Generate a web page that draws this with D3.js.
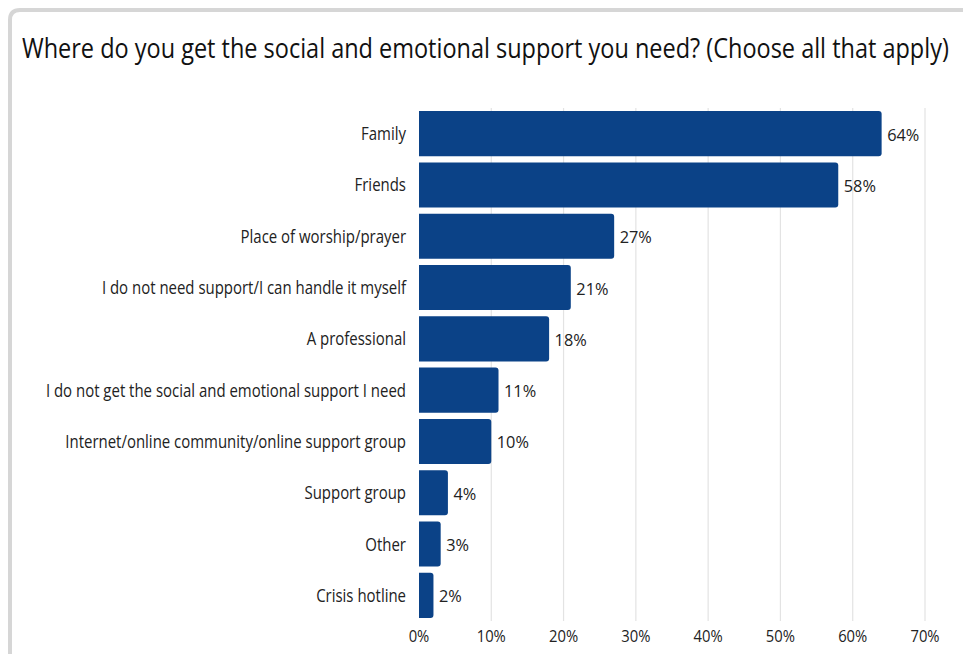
<!DOCTYPE html>
<html>
<head>
<meta charset="utf-8">
<script src="https://cdn.jsdelivr.net/npm/d3@7"></script>
<style>
  html, body { margin: 0; padding: 0; background: #fff; }
  svg { display: block; font-family: "Open Sans", sans-serif; }
</style>
</head>
<body>
<svg id="chart" width="963" height="654"></svg>
<script>
const title = "Where do you get the social and emotional support you need? (Choose all that apply)";
const categories = [
  "Family",
  "Friends",
  "Place of worship/prayer",
  "I do not need support/I can handle it myself",
  "A professional",
  "I do not get the social and emotional support I need",
  "Internet/online community/online support group",
  "Support group",
  "Other",
  "Crisis hotline"
];
const values = [64, 58, 27, 21, 18, 11, 10, 4, 3, 2];
const tickValues = [0, 10, 20, 30, 40, 50, 60, 70];

const svg = d3.select("#chart");
const SX = 0.87; // horizontal condensing of the typeface

// card frame
svg.append("path")
  .attr("d", "M10,660 L10,20 Q10,10 20,10 L980,10")
  .attr("fill", "none")
  .attr("stroke", "#d6d6d6")
  .attr("stroke-width", 4);

function label(parent, x, y, text, size, anchor, color, sx = SX) {
  const g = parent.append("g").attr("transform", `translate(${x},${y}) scale(${sx},1)`);
  g.append("text")
    .attr("text-anchor", anchor)
    .attr("font-size", size)
    .attr("fill", color)
    .text(text);
  return g;
}

label(svg, 22, 57.5, title, 27, "start", "#111");

const margin = { left: 419, right: 925, top: 108, bottom: 621 };
const x = d3.scaleLinear().domain([0, 70]).range([margin.left, margin.right]);
const y = d3.scaleBand().domain(categories).range([margin.top, margin.bottom]).paddingInner(0.12).paddingOuter(0.06);

// vertical gridlines
svg.append("g").selectAll("line")
  .data(tickValues.slice(1))
  .join("line")
  .attr("x1", d => x(d)).attr("x2", d => x(d))
  .attr("y1", margin.top).attr("y2", margin.bottom)
  .attr("stroke", "#e3e3e3")
  .attr("stroke-width", 1.2);

// bars with rounded right ends
const r = 3;
svg.append("g").selectAll("path")
  .data(categories)
  .join("path")
  .attr("fill", "#0b4287")
  .attr("d", (c, i) => {
    const x0 = x(0), x1 = x(values[i]), y0 = y(c), h = y.bandwidth();
    const rr = Math.min(r, (x1 - x0) / 2);
    return `M${x0},${y0} H${x1 - rr} Q${x1},${y0} ${x1},${y0 + rr} V${y0 + h - rr} Q${x1},${y0 + h} ${x1 - rr},${y0 + h} H${x0} Z`;
  });

// category labels
categories.forEach(c => {
  label(svg, 406, y(c) + y.bandwidth() / 2 + 6.5, c, 17.2, "end", "#222");
});

// value labels
categories.forEach((c, i) => {
  label(svg, x(values[i]) + 5.5, y(c) + y.bandwidth() / 2 + 7, values[i] + "%", 17.2, "start", "#222", 0.95);
});

// x-axis tick labels
tickValues.forEach(t => {
  label(svg, x(t), 641.5, t + "%", 17, "middle", "#222");
});
</script>
</body>
</html>
